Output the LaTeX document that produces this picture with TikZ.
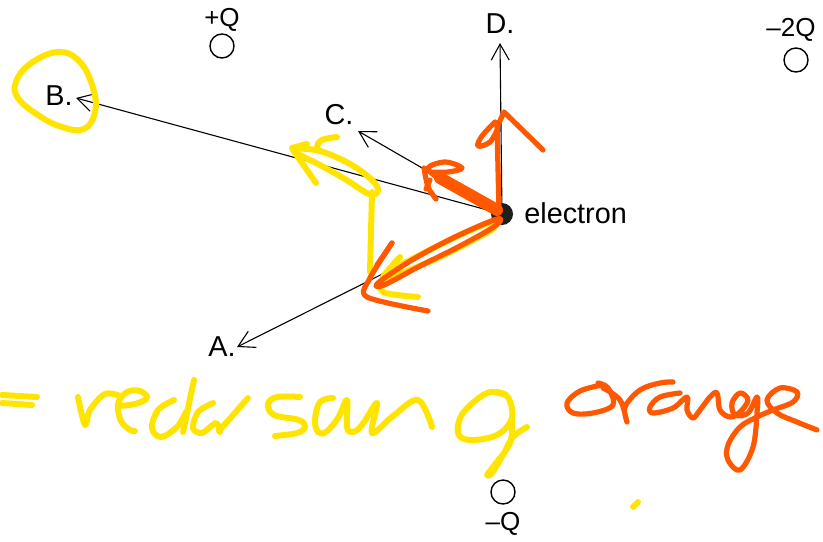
\documentclass[tikz,border=0pt]{standalone}
\usepackage{fontspec}
\setmainfont{Liberation Sans}
\usetikzlibrary{arrows.meta}
\definecolor{hlyellow}{RGB}{255,228,0}
\definecolor{hlorange}{RGB}{255,88,0}

\begin{document}
\begin{tikzpicture}[x=0.5pt,y=-0.5pt,
  charge/.style={circle,draw,line width=0.7pt,minimum size=12pt,inner sep=0pt},
  qlabel/.style={font=\fontsize{13}{15}\selectfont,inner sep=0pt},
  ptlabel/.style={font=\fontsize{14.4}{16}\selectfont,inner sep=0pt},
  vecline/.style={line width=0.55pt,-{Straight Barb[length=8pt,width=9pt,line width=0.55pt]}},
  yhand/.style={hlyellow,line width=3pt,line cap=round,line join=round},
  ohand/.style={hlorange,line width=2.6pt,line cap=round,line join=round}]
\useasboundingbox (0,0) rectangle (823,541);
% the three fixed charges
\node[charge] (qp) at (222,46) {};
\node[qlabel] at (222,20) {+Q};
\node[charge] (q2) at (796,60) {};
\node[qlabel] at (791,30) {\textendash2Q};
\node[charge] (qm) at (503,492) {};
\node[qlabel] at (503,524) {\textendash Q};
% answer choices: arrows out of the electron
\coordinate (e0) at (502,214);
\coordinate (tipA) at (237,347);
\coordinate (tipB) at (76,98);
\coordinate (tipC) at (358,131);
\coordinate (tipD) at (500,43);
\node[ptlabel] (labA) at (222,347) {A.};
\node[ptlabel] (labB) at (59,96) {B.};
\node[ptlabel] (labC) at (339,115) {C.};
\node[ptlabel] (labD) at (500,24) {D.};
\foreach \t in {A,B,C,D}{\draw[vecline] (e0) -- (tip\t);}
% the electron
\node[circle,fill=black!88,minimum size=11pt,inner sep=0pt] (el) at (e0) {};
\node[ptlabel,anchor=west] (ellab) at (524,213) {electron};
% yellow marks: loop round B and the two force arrows
\draw[yhand] plot[smooth cycle,tension=0.7] coordinates {(58,52) (80,62) (93,88) (95,112) (84,129) (62,127) (38,115) (18,98) (16,82) (30,64)};
\draw[yhand] (370,272) -- (372,192);
\draw[yhand] plot[smooth cycle,tension=0.6] coordinates {(295,149) (320,151) (350,164) (372,180) (378,191) (369,194) (345,179) (318,164) (300,155)};
\draw[yhand] (292,148) -- (307,144);
\draw[yhand] (293,150) -- (316,183);
\draw[yhand] plot[smooth,tension=0.7] coordinates {(337,137) (322,140) (317,147) (320,151)};
\draw[yhand] plot[smooth cycle,tension=0.6] coordinates {(492,222) (460,235) (420,255) (388,272) (384,279) (400,274) (440,257) (475,239) (494,228)};
\draw[yhand] plot[smooth,tension=0.5] coordinates {(400,257) (384,276) (383,292) (418,297)};
% orange marks: arrows toward C, D and A
\draw[hlorange,line width=6pt,line cap=round] (497,210) -- (440,178);
\draw[ohand] plot[smooth,tension=0.6] coordinates {(438,178) (428,168) (445,162) (462,168) (448,172) (430,172)};
\draw[ohand] plot[smooth,tension=0.5] coordinates {(424,168) (428,187) (436,199)};
\draw[ohand] (426,189) -- (430,180);
\draw[ohand] (499,212) -- (497,124);
\draw[ohand] plot[smooth,tension=0.6] coordinates {(495,122) (482,136) (478,146) (490,142) (498,128)};
\draw[ohand] (498,125) -- (504,112) -- (543,150);
\draw[ohand] plot[smooth cycle,tension=0.6] coordinates {(497,219) (455,237) (412,260) (378,283) (384,285) (420,266) (460,246) (495,226)};
\draw[ohand] plot[smooth,tension=0.5] coordinates {(392,243) (370,278) (367,297) (428,311)};
\draw[ohand] (392,243) -- (377,265);
% handwritten note, yellow part
\draw[yhand] (2,395) -- (37,397);
\draw[yhand] (2,403) -- (32,405);
\draw[yhand] plot[smooth,tension=0.6] coordinates {(78,397) (85,425) (90,410) (105,394) (120,396)};
\draw[yhand] plot[smooth,tension=0.6] coordinates {(118,406) (135,404) (147,398) (140,391) (127,392) (118,404) (121,421) (130,430) (135,431)};
\draw[yhand] plot[smooth,tension=0.6] coordinates {(174,400) (158,410) (152,428) (161,437) (177,427) (186,412)};
\draw[yhand] (194,380) -- (183,432);
\draw[yhand] plot[smooth,tension=0.5] coordinates {(213,403) (198,412) (193,428) (202,433) (216,423) (220,432)};
\draw[yhand] (219,431) -- (248,398);
\draw[yhand] plot[smooth,tension=0.6] coordinates {(300,397) (277,397) (268,404) (274,415) (299,420) (305,427) (297,433) (275,436)};
\draw[yhand] plot[smooth,tension=0.6] coordinates {(333,398) (320,402) (315,420) (318,432) (326,432) (338,418) (347,400) (347,427) (353,432) (362,425) (377,403) (372,433) (393,416) (418,400) (432,427)};
\draw[yhand] plot[smooth,tension=0.6] coordinates {(505,395) (487,393) (463,413) (458,433) (470,440) (497,435) (512,418) (508,397) (497,392)};
\draw[yhand] plot[smooth,tension=0.6] coordinates {(512,420) (510,443) (493,467) (487,475) (492,473) (503,455) (513,437) (527,427)};
\draw[yhand] (633,507) -- (638,502);
% handwritten note, orange part
\draw[ohand] plot[smooth,tension=0.6] coordinates {(602,385) (580,391) (567,403) (573,413) (593,413) (613,405) (608,388) (598,383)};
\draw[ohand] plot[smooth,tension=0.6] coordinates {(603,388) (620,400) (627,422) (625,407) (640,390) (660,383) (673,382)};
\draw[ohand] plot[smooth,tension=0.6] coordinates {(680,393) (660,397) (650,407) (653,413) (673,408) (687,397) (687,410) (693,418) (700,410) (710,397) (717,393) (720,410) (730,417) (740,412) (748,400) (740,393) (732,403) (735,415) (748,413) (757,397) (757,413) (753,447) (740,470) (728,460) (728,445) (740,427) (757,417) (773,410) (793,402) (797,392) (780,388) (767,400) (777,413) (797,422) (817,430)};
\end{tikzpicture}
\end{document}
